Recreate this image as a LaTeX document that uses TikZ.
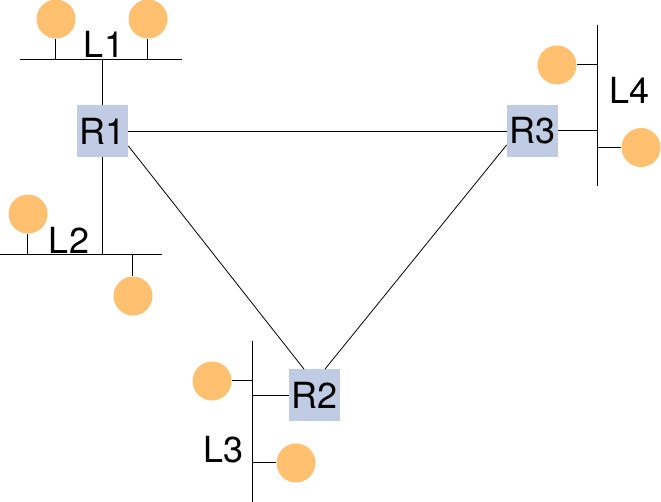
\documentclass[tikz,border=0pt]{standalone}
\usepackage{fontspec}
\setmainfont{TeX Gyre Heros}
\usetikzlibrary{positioning}
\definecolor{routerblue}{RGB}{192,204,228}
\definecolor{hostorange}{RGB}{255,192,112}

\begin{document}
\begin{tikzpicture}[
    x=0.5pt, y=-0.5pt,
    router/.style={rectangle, fill=routerblue, minimum width=25.5pt, minimum height=26pt, inner sep=0pt, font=\fontsize{18}{20}\selectfont},
    host/.style={circle, fill=hostorange, minimum size=19.5pt, inner sep=0pt},
    lan/.style={font=\fontsize{18}{20}\selectfont, inner sep=0pt},
    bus/.style={line width=0.5pt},
    link/.style={line width=0.4pt},
    ]
    \useasboundingbox (0,0) rectangle (661,502);

    % Buses
    \coordinate (l1w) at (20,60);   \coordinate (l1e) at (182,60);
    \coordinate (l2w) at (0,255);   \coordinate (l2e) at (162,255);
    \coordinate (l3n) at (253,341); \coordinate (l3s) at (253,502);
    \coordinate (l4n) at (598,25);  \coordinate (l4s) at (598,186);
    \draw[bus] (l1w) -- (l1e);
    \draw[bus] (l2w) -- (l2e);
    \draw[bus] (l3n) -- (l3s);
    \draw[bus] (l4n) -- (l4s);

    % Nodes
    \node[router] (r1) at (102.5,131) {R1};
    \node[router] (r2) at (315,395.5) {R2};
    \node[router] (r3) at (532.5,131) {R3};

    \node[host] (h1a) at (56,19) {};
    \node[host] (h1b) at (148,19) {};
    \node[host] (h2a) at (28,214) {};
    \node[host] (h2b) at (133,296) {};
    \node[host] (h3a) at (212,381) {};
    \node[host] (h3b) at (296,463) {};
    \node[host] (h4a) at (557,65) {};
    \node[host] (h4b) at (641,147.5) {};

    \node[lan] (lab1) at (104,44) {L1};
    \node[lan] (lab2) at (69,240) {L2};
    \node[lan] (lab3) at (224,450) {L3};
    \node[lan] (lab4) at (630,90) {L4};

    % Edges
    \draw[bus] (h1a) -- (h1a |- l1w);
    \draw[bus] (h1b) -- (h1b |- l1w);
    \draw[bus] (h2a) -- (h2a |- l2w);
    \draw[bus] (h2b) -- (h2b |- l2w);
    \draw[bus] (h3a) -- (h3a -| l3n);
    \draw[bus] (h3b) -- (h3b -| l3n);
    \draw[bus] (h4a) -- (h4a -| l4n);
    \draw[bus] (h4b) -- (h4b -| l4n);

    \draw[bus] (r1) -- (r1 |- l1w);
    \draw[bus] (r1) -- (r1 |- l2w);
    \draw[bus] (r2) -- (r2 -| l3n);
    \draw[bus] (r3) -- (r3 -| l4n);

    \draw[link] (r1) -- (r3);
    \draw[link] ([yshift=-7.5pt]r1.east) -- ([xshift=-5.5pt]r2.north);
    \draw[link] ([xshift=5pt]r2.north) -- ([yshift=-7pt]r3.west);
\end{tikzpicture}
\end{document}
